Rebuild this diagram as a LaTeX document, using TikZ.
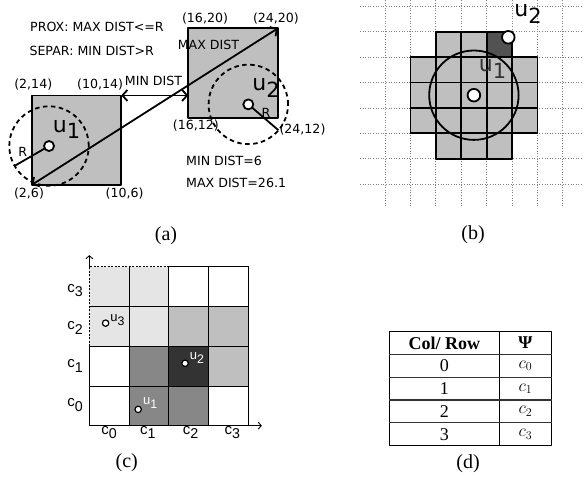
\documentclass[tikz,border=0pt]{standalone}
\usepackage{fontspec}
\setmainfont{Liberation Serif}
\newfontfamily\dejavu{DejaVu Sans}
\newfontfamily\arial{Liberation Sans}
\usepackage{amsmath}
\usetikzlibrary{arrows.meta}
\usetikzlibrary{positioning}

% letter with a lowered index, as in the figure
\newcommand{\usub}[2]{#1\raisebox{-0.55ex}{\scalebox{0.95}{#2}}}

\begin{document}
\begin{tikzpicture}[x=1pt, y=-1pt, line join=round,
		lbla/.style={font=\dejavu\fontsize{12.6}{14}\selectfont, inner sep=0pt},
		bigu/.style={font=\dejavu\fontsize{22}{24}\selectfont, inner sep=0pt},
		lblc/.style={font=\arial\fontsize{15}{17}\selectfont, inner sep=0pt},
		smallu/.style={font=\arial\fontsize{13}{15}\selectfont, inner sep=0pt},
		captxt/.style={font=\fontsize{20}{22}\selectfont, inner sep=0pt},
		tab/.style={font=\fontsize{18}{20}\selectfont, inner sep=0pt},
		sqbox/.style={draw, fill=black!25, line width=1.8pt},
		dcirc/.style={line width=1.8pt, dash pattern=on 4.5pt off 3.5pt},
		ptw/.style={draw, fill=white, line width=1.8pt},
		arr/.style={line width=1.8pt, {Straight Barb[length=5pt, width=11pt]}-{Straight Barb[length=5pt, width=11pt]}},
		gridb/.style={gray, line width=0.7pt, dash pattern=on 1pt off 1.6pt},
		cellb/.style={draw, fill=black!25, line width=1.8pt},
		gridc/.style={line width=0.9pt}]

		\useasboundingbox (0,0) rectangle (584,484);

		\def\rad{3.55} % radius R in panel (a)

		% ---------------- (a) ----------------
		\begin{scope}[shift={(9.3,252.1)}, x=11.19pt, y=11.19pt]
			\coordinate (A1) at (2,6);   \coordinate (B1) at (10,14);
			\coordinate (A2) at (16,12); \coordinate (B2) at (24,20);
			\coordinate (D2) at (16,14);
			\coordinate (u1) at (3.55,9.48);
			\coordinate (u2) at (21.36,13.2);

			\draw[sqbox] (A1) rectangle (B1);
			\draw[sqbox] (A2) rectangle (B2);

			\node[bigu] (nu1) at (5.11,10.96) {\usub{u}{1}};
			\node[bigu] (nu2) at (22.94,14.67) {\usub{u}{2}};

			\draw[dcirc] (u1) circle (\rad);
			\draw[dcirc] (u2) circle (\rad);

			% distances
			\draw[arr] (A1) -- (B2);
			\draw[arr] (B1) -- (D2);

			% radius lines
			\path (u1) ++(210:\rad) coordinate (r1);
			\path (u2) ++(-40.6:\rad) coordinate (r2);
			\draw[line width=1.8pt] (u1) -- (r1);
			\draw[line width=1.8pt] (u2) -- (r2);
			\draw[ptw] (u1) circle (5pt);
			\draw[ptw] (u2) circle (5pt);

			\node[lbla] (r1l) at (1.20,8.97) {R};
			\node[lbla] (r2l) at (22.94,12.40) {R};

			\node[lbla, anchor=west] (prox) at (1.85,20.11) {PROX: MAX DIST<=R};
			\node[lbla, anchor=west] (separ) at (1.79,17.99) {SEPAR: MIN DIST>R};
			\node[lbla] (l1620) at (17.49,20.89) {(16,20)};
			\node[lbla] (l2420) at (23.83,20.89) {(24,20)};
			\node[lbla] (l214) at (2.14,14.93) {(2,14)};
			\node[lbla] (l1014) at (8.11,14.93) {(10,14)};
			\node[lbla] (lmin) at (12.89,15.26) {MIN DIST};
			\node[lbla] (lmax) at (17.80,18.51) {MAX DIST};
			\node[lbla] (l1612) at (16.68,11.33) {(16,12)};
			\node[lbla] (l2412) at (26.2,10.91) {(24,12)};
			\node[lbla] (l26) at (1.76,5.19) {(2,6)};
			\node[lbla] (l106) at (10.31,5.19) {(10,6)};
			\node[lbla, anchor=west] (mind) at (15.79,8.16) {MIN DIST=6};
			\node[lbla, anchor=west] (maxd) at (15.79,6.22) {MAX DIST=26.1};
		\end{scope}
		\node[captxt] (capa) at (166,236) {(a)};

		% ---------------- (b) ----------------
		\def\gx{385} \def\gy{6.3} \def\gs{25.4}
		\foreach \i in {0,...,8}
			\draw[gridb] (\gx+\i*\gs, 0) -- (\gx+\i*\gs, 208);
		\foreach \j in {0,...,7}
			\draw[gridb] (360, \gy+\j*\gs) -- (584, \gy+\j*\gs);

		\foreach \i/\j in {2/1,3/1,1/2,2/2,3/2,4/2,5/2,1/3,2/3,3/3,4/3,5/3,1/4,2/4,3/4,4/4,5/4,2/5,3/5,4/5}
			\draw[cellb] (\gx+\i*\gs, \gy+\j*\gs) rectangle ++(\gs,\gs);
		\draw[cellb, fill=black!68] (\gx+4*\gs, \gy+1*\gs) rectangle ++(\gs,\gs);

		\coordinate (cb) at (\gx+3.5*\gs, \gy+3.5*\gs);
		\coordinate (pb) at (508.3,37.3);
		\node[bigu, text=black!80] (bu1) at (492.5,69) {\usub{u}{1}};
		\draw[line width=1.8pt] (cb) circle (44.7pt);
		\draw[ptw] (cb) circle (6.3pt);
		\draw[ptw] (pb) circle (6.3pt);
		\node[bigu] (bu2) at (528,14) {\usub{u}{2}};
		\node[captxt] (capb) at (473,235) {(b)};

		% ---------------- (c) ----------------
		\begin{scope}[shift={(89.3,425.7)}, x=39.75pt, y=39.75pt]
			\foreach \i/\j in {0/3,1/3,0/2,1/2}
				\fill[black!10] (\i,\j) rectangle ++(1,1);
			\foreach \i/\j in {2/2,3/2,3/1}
				\fill[black!25] (\i,\j) rectangle ++(1,1);
			\foreach \i/\j in {1/1,1/0,2/0}
				\fill[black!47] (\i,\j) rectangle ++(1,1);
			\fill[black!80] (2,1) rectangle ++(1,1);

			% grid, dashed where the light cells end
			\foreach \k in {1,2,3} {
				\draw[gridc] (\k,0) -- (\k,4);
				\draw[gridc] (0,\k) -- (4,\k);
			}
			\draw[gridc] (2,4) -- (4,4) -- (4,0);
			\draw[gridc, dash pattern=on 2pt off 1.5pt] (0,2) -- (0,4) -- (2,4);

			% axes
			\coordinate (o) at (0,0);
			\coordinate (yk) at (0,2);
			\coordinate (yt) at (0,4);
			\coordinate (ye) at (0,4.29);
			\coordinate (xe) at (4.34,0);
			\draw[gridc] (o) -- (yk);
			\draw[gridc, -{Straight Barb[length=3pt, width=7pt]}] (yt) -- (ye);
			\draw[gridc, -{Straight Barb[length=3pt, width=7pt]}] (o) -- (xe);

			\foreach \j/\p in {0/0.52,1/1.5,2/2.46,3/3.4}
				\node[lblc] (cy\j) at (-0.36,\p) {\usub{c}{\j}};
			\foreach \i/\p in {0/0.5,1/1.47,2/2.55,3/3.6}
				\node[lblc] (cx\i) at (\p,-0.17) {\usub{c}{\i}};

			\coordinate (cu1) at (1.23,0.41);
			\coordinate (cu2) at (2.41,1.57);
			\coordinate (cu3) at (0.41,2.58);
			\foreach \p in {cu1,cu2,cu3}
				\draw[draw, fill=white, line width=1.2pt] (\p) circle (3.2pt);
			\node[smallu, text=white] (lu1) at (1.53,0.57) {\usub{u}{1}};
			\node[smallu, text=white] (lu2) at (2.71,1.70) {\usub{u}{2}};
			\node[smallu] (lu3) at (0.71,2.66) {\usub{u}{3}};
		\end{scope}
		\node[captxt] (capc) at (126.7,463) {(c)};

		% ---------------- (d) ----------------
		\def\tl{389.3} \def\tm{499.3} \def\tr{551.7}
		\draw[line width=0.9pt] (\tl,331.7) rectangle (\tr,445.7);
		\draw[line width=0.9pt] (\tm,331.7) -- (\tm,445.7);
		\foreach \y in {354.3,377.3,400,422.7}
			\draw[line width=1.3pt, black!80] (\tl,\y) -- (\tr,\y);
		\node[tab] (hcol) at (444.3,343) {\textbf{Col/ Row}};
		\node[tab] (hpsi) at (525.5,343) {\textbf{Ψ}};
		\foreach \r in {0,...,3} {
			\node[tab] (row\r) at (444.3, 365.8+\r*22.8) {\r};
			\node[tab] (psi\r) at (525.5, 365.8+\r*22.8) {$c_{\r}$};
		}
		\node[captxt] (capd) at (468,464) {(d)};

	\end{tikzpicture}
\end{document}
